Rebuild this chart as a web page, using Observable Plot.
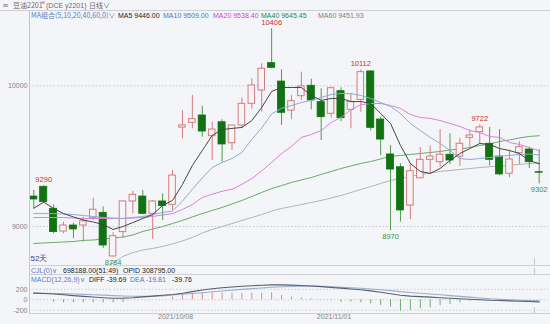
<!DOCTYPE html>
<html><head><meta charset="utf-8">
<script src="https://cdn.jsdelivr.net/npm/d3@7"></script>
<script src="https://cdn.jsdelivr.net/npm/@observablehq/plot@0.6"></script>
<style>
body{margin:0;background:#f4f5f8;}
#wrap{position:relative;width:550px;height:324px;overflow:hidden;background:#f4f5f8;font-family:"Liberation Sans",Arial,sans-serif;}
#wrap svg{position:absolute;left:0;}
.t{position:absolute;font-size:7px;white-space:nowrap;line-height:7px;}
.hl{position:absolute;height:1px;background:#cdd0d6;}
.vl{position:absolute;width:1px;background:#c4c7cd;}
</style></head>
<body><div id="wrap"></div>
<script>
// ---- data ----
const opens  = [9213,9282,9126,8964,9007,9007,9059,9097,8787,8960,9178,9213,9090,9178,9154,9703,9737,9789,9642,9741,9592,9718,9872,9967,10161,10030,9824,9926,10000,9884,9801,9962,9829,9900,10102,9760,9512,9421,9149,9343,9474,9457,9510,9497,9630,9670,9588,9497,9375,9521,9547,9386];
const highs  = [9256,9290,9154,9031,9024,9066,9201,9140,8955,9180,9249,9256,9185,9232,9398,9824,9931,9855,9741,9758,9718,9913,10050,10156,10406,10114,9930,10097,10047,9979,9990,9986,9943,10112,10105,9777,9576,9446,9443,9561,9574,9689,9659,9626,9686,9722,9704,9689,9541,9602,9563,9545];
const lows   = [9126,9165,8948,8948,8913,8888,9043,8844,8784,8915,9090,9083,8908,9043,9114,9623,9694,9635,9469,9457,9540,9696,9833,9812,10121,9718,9760,9896,9829,9611,9770,9745,9694,9812,9680,9505,8970,9031,9049,9338,9370,9421,9440,9428,9563,9583,9430,9363,9346,9440,9412,9302];
const closes = [9192,9173,8960,9007,8979,9036,9119,8865,8931,9178,9225,9090,9178,9145,9362,9718,9763,9675,9689,9583,9718,9872,10002,10121,10128,9808,9891,9995,9896,9777,9983,9770,9884,10097,9701,9618,9405,9114,9393,9474,9497,9510,9469,9588,9647,9704,9474,9370,9476,9564,9457,9382];

const ma5  = [9130,9173,9128,9092,9068,9046,9032,9014,8979,9000,9028,9057,9085,9150,9185,9299,9433,9540,9647,9689,9697,9704,9753,9846,9960,9988,9988,9988,9931,9896,9910,9910,9888,9888,9874,9803,9732,9576,9448,9391,9377,9412,9469,9519,9554,9590,9583,9554,9540,9519,9469,9446];
const ma10 = [9092,9092,9092,9089,9085,9078,9071,9064,9060,9057,9064,9071,9085,9100,9110,9180,9265,9345,9419,9455,9483,9526,9620,9700,9800,9840,9860,9881,9896,9917,9938,9945,9945,9931,9910,9881,9853,9803,9732,9682,9633,9590,9540,9483,9476,9483,9490,9498,9505,9512,9515,9509];
const ma20 = [9064,9064,9064,9064,9060,9057,9057,9057,9057,9057,9060,9064,9071,9082,9092,9121,9156,9206,9230,9250,9265,9299,9341,9395,9455,9519,9569,9633,9654,9682,9739,9775,9830,9865,9874,9874,9860,9839,9796,9775,9768,9753,9732,9711,9682,9668,9640,9633,9597,9583,9561,9538];
const ma40 = [8879,8883,8886,8890,8893,8901,8904,8911,8918,8925,8940,8965,8982,9000,9021,9043,9068,9092,9114,9135,9160,9185,9213,9242,9270,9291,9313,9331,9348,9370,9391,9412,9430,9448,9462,9480,9498,9505,9512,9519,9526,9533,9544,9551,9561,9576,9586,9604,9615,9629,9640,9645];
const ma60 = [null,null,null,null,null,null,null,8702,8741,8787,8815,8833,8844,8858,8876,8897,8922,8954,8979,9000,9021,9043,9064,9085,9110,9128,9142,9156,9171,9185,9203,9220,9242,9263,9284,9306,9327,9341,9355,9370,9380,9391,9398,9405,9412,9419,9425,9430,9436,9441,9447,9452];

const macdHist = [0,0,-45,-57,-57,-57,-57,-57,-57,-50,0,0,0,0,50,100,127,127,127,127,127,127,127,127,135,83,50,38,19,5,-10,-44,-44,-57,-76,-108,-140,-216,-203,-171,-152,-108,-89,-57,-25,-10,-6,-5,-5,-5,-5,-5];
const diffLine = [126,120,110,95,80,65,52,40,30,32,40,55,70,85,100,125,155,185,210,230,245,258,268,278,285,285,280,272,262,250,235,222,205,190,170,145,115,85,70,60,50,40,30,20,10,0,-10,-15,-20,-28,-34,-40];
const deaLine  = [126,124,121,117,111,104,96,88,80,72,67,65,68,75,90,105,120,135,152,168,183,198,212,225,238,248,254,258,260,258,250,240,230,221,205,190,175,155,140,125,110,95,80,65,50,35,20,8,-2,-10,-16,-20];

const priceTicks = [9000, 10000];
const macdTicks = [-200, 0, 200];
const dateTicks = [14, 30];
const dateLabels = ["2021/10/08", "2021/11/01"];
const highLabels = [[1, 9290], [24, 10406], [33, 10112], [45, 9722]];
const lowLabels  = [[8, 8784], [36, 8970], [51, 9302]];

// ---- colors ----
const BG = "#f4f5f8";
const RED = "#d47c7c", RED_TXT = "#c0392b";
const GREEN = "#117211", GREEN_WICK = "#4f9a4f", GREEN_TXT = "#3f8f3f";
const maColors = {ma5: "#454545", ma10: "#8fabd2", ma20: "#d884d8", ma40: "#6aaa6a", ma60: "#b4b4b4"};

const wrap = document.getElementById("wrap");
const n = opens.length;
const idx = d3.range(n);
const candles = idx.map(i => ({i, o: opens[i], h: highs[i], l: lows[i], c: closes[i]}));
const up = candles.filter(d => d.c >= d.o);
const down = candles.filter(d => d.c < d.o);
const ser = arr => idx.map(i => ({i, v: arr[i]})).filter(d => d.v != null);

const font = "'Liberation Sans', Arial, sans-serif";

// ---- main price panel ----
const main = Plot.plot({
  width: 550, height: 272,
  marginLeft: 29, marginRight: 2, marginTop: 11, marginBottom: 7,
  style: {background: "transparent", fontFamily: font, fontSize: "7px", color: "#808080", overflow: "visible"},
  x: {type: "linear", domain: [0, 51], range: [33.3, 538.7], axis: null},
  y: {domain: [8700, 10500], range: [268.2, 14.95], axis: null},
  marks: [
    Plot.ruleY(priceTicks, {stroke: "#c9c9c9", strokeDasharray: "1.5,2"}),
    Plot.axisY({ticks: priceTicks, tickSize: 0, tickPadding: 2, tickFormat: d => String(d), fill: "#858585"}),
    Plot.line(ser(ma60), {x: "i", y: "v", stroke: maColors.ma60, strokeWidth: 1, clip: true}),
    Plot.line(ser(ma40), {x: "i", y: "v", stroke: maColors.ma40, strokeWidth: 1, clip: true}),
    Plot.ruleX(down, {x: "i", y1: "l", y2: "h", stroke: GREEN_WICK, strokeWidth: 1}),
    Plot.ruleX(up, {x: "i", y1: "l", y2: "h", stroke: RED, strokeWidth: 1}),
    Plot.rect(down, {x1: d => d.i - 0.36, x2: d => d.i + 0.36, y1: "o", y2: "c", fill: GREEN, stroke: GREEN, strokeWidth: 0.8}),
    Plot.rect(up, {x1: d => d.i - 0.33, x2: d => d.i + 0.33, y1: "o", y2: "c", fill: BG, stroke: RED, strokeWidth: 1}),
    Plot.line(ser(ma20), {x: "i", y: "v", stroke: maColors.ma20, strokeWidth: 1, clip: true}),
    Plot.line(ser(ma10), {x: "i", y: "v", stroke: maColors.ma10, strokeWidth: 1, clip: true}),
    Plot.line(ser(ma5), {x: "i", y: "v", stroke: maColors.ma5, strokeWidth: 1, clip: true}),
    Plot.text(highLabels, {x: d => d[0], y: d => d[1], text: d => String(d[1]), dy: -6, fill: RED_TXT, fontSize: 7.5}),
    Plot.text(lowLabels, {x: d => d[0], y: d => d[1], text: d => String(d[1]), dy: 5.5, fill: GREEN_TXT, fontSize: 7.5}),
    Plot.text(["52天"], {text: d => d, frameAnchor: "bottom-left", dx: 1, dy: -5, textAnchor: "start", fill: "#3f3f86", fontSize: 8})
  ]
});
main.style.top = "0px";
wrap.appendChild(main);

// ---- MACD panel ----
const macd = Plot.plot({
  width: 550, height: 44,
  marginLeft: 29, marginRight: 2, marginTop: 2, marginBottom: 12,
  style: {background: "transparent", fontFamily: font, fontSize: "7px", color: "#808080"},
  x: {type: "linear", domain: [0, 51], range: [33.3, 538.7]},
  y: {domain: [-250, 350], range: [31.4, -0.08]},
  marks: [
    Plot.ruleY(macdTicks, {stroke: "#cdcdcd", strokeDasharray: "1.5,2"}),
    Plot.axisY({ticks: macdTicks, tickSize: 0, tickPadding: 2, tickFormat: d => String(d), fill: "#858585"}),
    Plot.axisX({ticks: dateTicks, tickSize: 0, tickPadding: 1, dx: 3, tickFormat: d => dateLabels[dateTicks.indexOf(d)], fill: "#858585"}),
    Plot.ruleX(idx.filter(i => macdHist[i] > 0), {x: d => d, y1: 0, y2: d => macdHist[d], stroke: "#d98c8c", strokeWidth: 1}),
    Plot.ruleX(idx.filter(i => macdHist[i] < 0), {x: d => d, y1: 0, y2: d => macdHist[d], stroke: "#6fae6f", strokeWidth: 1}),
    Plot.line(idx, {x: d => d, y: d => deaLine[d], stroke: "#97aed0", strokeWidth: 1.1}),
    Plot.line(idx, {x: d => d, y: d => diffLine[d], stroke: "#5a5f68", strokeWidth: 1.1})
  ]
});
macd.style.top = "281px";
wrap.appendChild(macd);

// ---- frame lines ----
function hline(y, x1, x2) { const e = document.createElement("div"); e.className = "hl"; e.style.top = y + "px"; e.style.left = x1 + "px"; e.style.width = (x2 - x1) + "px"; wrap.appendChild(e); }
function vline(x, y1, y2) { const e = document.createElement("div"); e.className = "vl"; e.style.left = x + "px"; e.style.top = y1 + "px"; e.style.height = (y2 - y1) + "px"; wrap.appendChild(e); }
hline(10, 0, 550); hline(265, 29, 550); hline(274, 29, 550); hline(313, 29, 550);
vline(29, 10, 314);
vline(534, 258, 265); vline(534, 268, 274); vline(534, 307, 313);

// ---- text rows ----
function txt(s, x, yc, color, extra) {
  const e = document.createElement("span"); e.className = "t"; e.textContent = s;
  e.style.left = x + "px"; e.style.top = (yc - 3.5) + "px"; e.style.color = color;
  if (extra) Object.assign(e.style, extra);
  wrap.appendChild(e);
}
const cjk = {fontFamily: "'Noto Sans CJK SC', 'Liberation Sans', sans-serif"};
txt("∞", 2, 5, "#777", {fontFamily: "'DejaVu Sans', sans-serif", fontSize: "8px"});
txt("豆油2201", 13, 5, "#6b6b6b", cjk);
txt("M", 41.5, 4, "#c0392b", {fontSize: "4px", lineHeight: "4px"});
txt("(DCE y2201)", 46, 5, "#6b6b6b");
txt("日线∨", 89, 5, "#6b6b6b", cjk);

txt("MA组合(5,10,20,40,60,0)∨", 31, 15, "#5b7ec2", cjk);
txt("MA5 9446.00", 118, 15, "#222");
txt("MA10 9509.00", 163, 15, "#4a78c0");
txt("MA20 9538.40", 213, 15, "#d040d0");
txt("MA40 9645.45", 261, 15, "#2a8a2a");
txt("MA60 9451.93", 318, 15, "#808080");

txt("CJL(0)∨", 31, 270, "#5b7ec2");
txt("698188.00(51:49)", 63, 270, "#222");
txt("OPID 308795.00", 123, 270, "#222");

txt("MACD(12,26,9)∨", 31, 279.5, "#5b7ec2");
txt("DIFF -39.69", 89, 279.5, "#222");
txt("DEA -19.81", 130, 279.5, "#4a78c0");
txt("-39.76", 172, 279.5, "#222");
</script></body></html>
